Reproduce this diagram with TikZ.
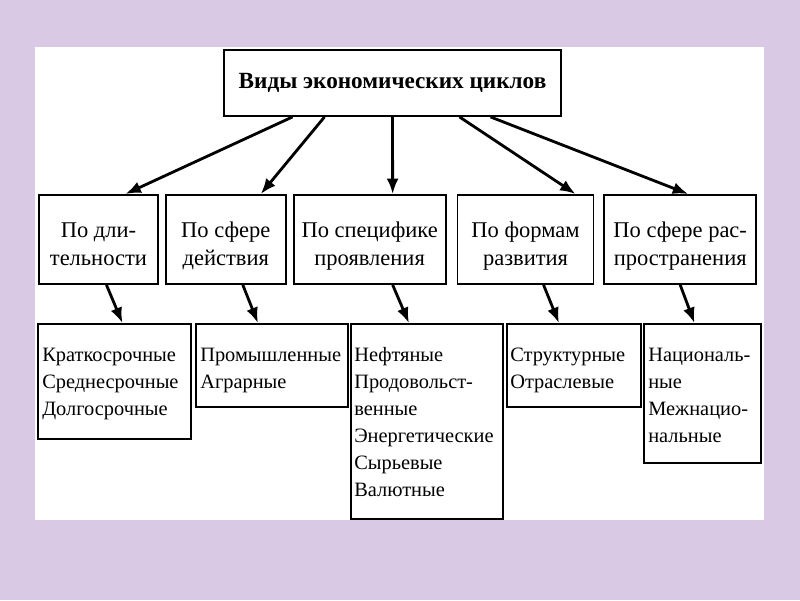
\documentclass[tikz,border=0pt]{standalone}
\usepackage{fontspec}
\setmainfont{Liberation Serif}
\usetikzlibrary{positioning}
\usetikzlibrary{arrows.meta}
\definecolor{lavbg}{RGB}{217,201,228}

\begin{document}
\begin{tikzpicture}[x=0.025cm,y=-0.025cm,
    box/.style={rectangle,draw,line width=1.3pt,inner sep=0pt},
    kind node/.style={box,minimum height=2.225cm,align=center,font=\fontsize{16}{20}\selectfont,
        execute at begin node={\rule{0pt}{43pt}},execute at end node={\rule[-6pt]{0pt}{6pt}}},
    leaf node/.style={box,anchor=north west},
    leaf text/.style={inner sep=0pt,text width=3.6cm,align=left,anchor=base west,font=\fontsize{14.5}{19.2}\selectfont},
    arr/.style={line width=2pt,-{Latex[length=11pt,width=8.5pt]}}]

    \fill[lavbg] (0,0) rectangle (800,600);
    \fill[white] (35,47) rectangle (764,520);

    \node[box][minimum width=8.425cm,minimum height=1.65cm,font=\bfseries\fontsize{16.5}{20}\selectfont](title) at (392.5,83) {Виды экономических циклов};

    \node[kind node][minimum width=2.975cm,anchor=north west](c1) at (38,194) {По дли-\\тельности};
    \node[kind node][minimum width=3cm](c2)[right=0.15cm of c1] {По сфере\\действия};
    \node[kind node][minimum width=3.8cm](c3)[right=0.15cm of c2] {По специфике\\проявления};
    \node[kind node][minimum width=3.4cm](c4)[right=0.25cm of c3] {По формам\\развития};
    \node[kind node][minimum width=3.8cm](c5)[right=0.22cm of c4] {По сфере рас-\\пространения};

    \node[leaf node][minimum width=3.825cm,minimum height=2.875cm](l1) at (37,323) {};
    \node[leaf node][minimum width=3.8cm,minimum height=2.075cm](l2) at (195,323) {};
    \node[leaf node][minimum width=3.8cm,minimum height=4.875cm](l3) at (350,323) {};
    \node[leaf node][minimum width=3.35cm,minimum height=2.075cm](l4) at (506,323) {};
    \node[leaf node][minimum width=2.925cm,minimum height=3.475cm](l5) at (643,323) {};

    \node[leaf text](t1) at ([shift={(5,38)}]l1.north west) {Краткосрочные\\Среднесрочные\\Долгосрочные};
    \node[leaf text](t2) at ([shift={(5,38)}]l2.north west) {Промышленные\\Аграрные};
    \node[leaf text](t3) at ([shift={(4,38)}]l3.north west) {Нефтяные\\Продовольст-\\венные\\Энергетические\\Сырьевые\\Валютные};
    \node[leaf text](t4) at ([shift={(4,38)}]l4.north west) {Структурные\\Отраслевые};
    \node[leaf text](t5) at ([shift={(5,38)}]l5.north west) {Националь-\\ные\\Межнацио-\\нальные};

    \path ([shift={(-100,0)}]title.south) edge[arr] ([shift={(27,0)}]c1.north);
    \path ([shift={(-68,0)}]title.south) edge[arr] ([shift={(35,0)}]c2.north);
    \path (title.south) edge[arr] ([shift={(23,0)}]c3.north);
    \path ([shift={(67,0)}]title.south) edge[arr] ([shift={(50,0)}]c4.north);
    \path ([shift={(98,0)}]title.south) edge[arr] ([shift={(8,0)}]c5.north);

    \path ([shift={(8,0)}]c1.south) edge[arr] ([shift={(8,0)}]l1.north);
    \path ([shift={(17,0)}]c2.south) edge[arr] ([shift={(-14,0)}]l2.north);
    \path ([shift={(23,0)}]c3.south) edge[arr] ([shift={(-18,0)}]l3.north);
    \path ([shift={(18,0)}]c4.south) edge[arr] ([shift={(-15,0)}]l4.north);
    \path (c5.south) edge[arr] ([shift={(-8,0)}]l5.north);

\end{tikzpicture}
\end{document}
